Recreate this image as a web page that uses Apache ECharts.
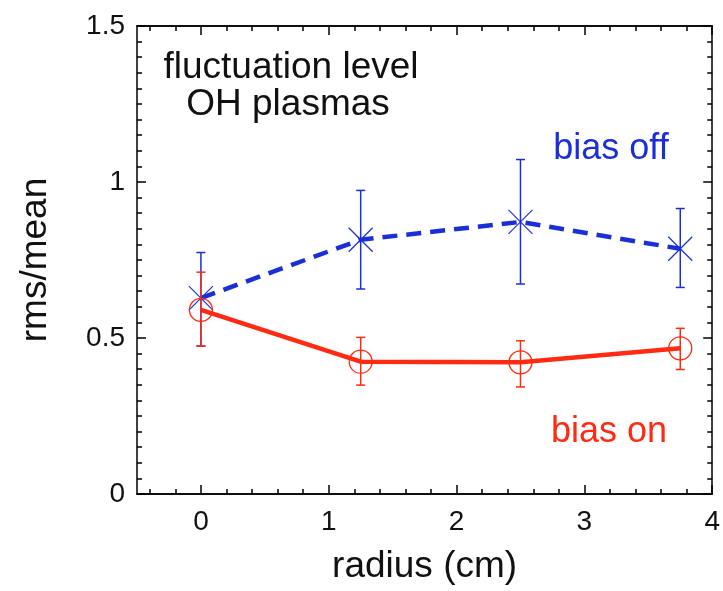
<!DOCTYPE html>
<html>
<head>
<meta charset="utf-8">
<script src="https://cdn.jsdelivr.net/npm/echarts@6/dist/echarts.min.js"></script>
<style>
html,body{margin:0;padding:0;background:#fff;}
#chart{width:723px;height:591px;}
</style>
</head>
<body>
<div id="chart"></div>
<script>
// ---- data ----
const radius = [0, 1.25, 2.5, 3.75];
const biasOff = [0.628, 0.815, 0.872, 0.786];
const biasOffLow = [0.474, 0.657, 0.673, 0.662];
const biasOffHigh = [0.774, 0.973, 1.072, 0.915];
const biasOn = [0.590, 0.424, 0.422, 0.467];
const biasOnLow = [0.474, 0.349, 0.343, 0.399];
const biasOnHigh = [0.711, 0.502, 0.491, 0.531];
const xMajorTicks = [0, 1, 2, 3, 4];
const xMinorTicks = [-0.4, -0.2, 0.2, 0.4, 0.6, 0.8, 1.2, 1.4, 1.6, 1.8, 2.2, 2.4, 2.6, 2.8, 3.2, 3.4, 3.6, 3.8];
const yTickLabels = ['0', '0.5', '1', '1.5'];

const BLUE = '#1a2fd8';
const RED = '#ff2a12';
const FONT = 'Liberation Sans, Arial, Helvetica, sans-serif';

const chart = echarts.init(document.getElementById('chart'));

function xAxisDef(pos, ticks, len, withLabels) {
  return {
    type: 'value', position: pos, min: -0.5, max: 4,
    axisLine: { show: true, onZero: false, lineStyle: { color: '#000', width: 1.5 } },
    axisTick: { show: true, inside: true, length: len, customValues: ticks, lineStyle: { color: '#000', width: 1.5 } },
    axisLabel: withLabels ? { show: true, customValues: xMajorTicks, margin: 14, fontSize: 28, color: '#111', fontFamily: FONT } : { show: false },
    splitLine: { show: false }
  };
}
function yAxisDef(pos, withLabels) {
  return {
    type: 'value', position: pos, min: 0, max: 1.5, interval: 0.5,
    axisLine: { show: true, onZero: false, lineStyle: { color: '#000', width: 1.5 } },
    axisTick: { show: true, inside: true, length: 9, lineStyle: { color: '#000', width: 1.5 } },
    minorTick: { show: true, splitNumber: 10, length: 5, lineStyle: { color: '#000', width: 1.5 } },
    axisLabel: withLabels ? { show: true, margin: 12, fontSize: 28, color: '#111', fontFamily: FONT,
      formatter: function (v) { return yTickLabels[Math.round(v / 0.5)]; } } : { show: false },
    splitLine: { show: false }
  };
}

function errData(ys, lo, hi) {
  return radius.map(function (r, i) { return [r, ys[i], lo[i], hi[i]]; });
}

function makeRender(color, kind) {
  return function (params, api) {
    const x = api.value(0), y = api.value(1), lo = api.value(2), hi = api.value(3);
    const c = api.coord([x, y]);
    const t = api.coord([x, hi]);
    const b = api.coord([x, lo]);
    const st = { stroke: color, lineWidth: 1.5, fill: null };
    const cap = 4.5;
    const kids = [
      { type: 'line', shape: { x1: t[0], y1: t[1], x2: b[0], y2: b[1] }, style: st },
      { type: 'line', shape: { x1: t[0] - cap, y1: t[1], x2: t[0] + cap, y2: t[1] }, style: st },
      { type: 'line', shape: { x1: b[0] - cap, y1: b[1], x2: b[0] + cap, y2: b[1] }, style: st }
    ];
    if (kind === 'x') {
      const a = 12;
      kids.push({ type: 'line', shape: { x1: c[0] - a, y1: c[1] - a, x2: c[0] + a, y2: c[1] + a }, style: { stroke: color, lineWidth: 1.2 } });
      kids.push({ type: 'line', shape: { x1: c[0] - a, y1: c[1] + a, x2: c[0] + a, y2: c[1] - a }, style: { stroke: color, lineWidth: 1.2 } });
    } else {
      kids.push({ type: 'circle', shape: { cx: c[0], cy: c[1], r: 11.5 }, style: { stroke: color, lineWidth: 1.3, fill: null } });
    }
    return { type: 'group', children: kids };
  };
}

const option = {
  backgroundColor: '#fff',
  animation: false,
  grid: { left: 137, right: 10, top: 26, bottom: 97, containLabel: false },
  xAxis: [
    Object.assign(xAxisDef('bottom', xMajorTicks, 9, true), {
      name: 'radius (cm)', nameLocation: 'middle', nameGap: 54,
      nameTextStyle: { fontSize: 37, color: '#111', fontFamily: FONT }
    }),
    xAxisDef('bottom', xMinorTicks, 5, false),
    xAxisDef('top', xMajorTicks, 9, false),
    xAxisDef('top', xMinorTicks, 5, false)
  ],
  yAxis: [
    Object.assign(yAxisDef('left', true), {
      name: 'rms/mean', nameLocation: 'middle', nameGap: 83, nameRotate: 90,
      nameTextStyle: { fontSize: 37, color: '#111', fontFamily: FONT }
    }),
    yAxisDef('right', false)
  ],
  series: [
    {
      type: 'line', name: 'bias off', xAxisIndex: 0, yAxisIndex: 0,
      data: radius.map(function (r, i) { return [r, biasOff[i]]; }),
      showSymbol: false, z: 2,
      lineStyle: { color: BLUE, width: 4.5, type: [15, 9] }
    },
    {
      type: 'line', name: 'bias on', xAxisIndex: 0, yAxisIndex: 0,
      data: radius.map(function (r, i) { return [r, biasOn[i]]; }),
      showSymbol: false, z: 2,
      lineStyle: { color: RED, width: 4.5 }
    },
    {
      type: 'custom', xAxisIndex: 0, yAxisIndex: 0, z: 3,
      renderItem: makeRender(BLUE, 'x'),
      data: errData(biasOff, biasOffLow, biasOffHigh)
    },
    {
      type: 'custom', xAxisIndex: 0, yAxisIndex: 0, z: 4,
      renderItem: makeRender(RED, 'o'),
      data: errData(biasOn, biasOnLow, biasOnHigh)
    }
  ],
  graphic: [
    { type: 'text', x: 291, y: 68, style: { text: 'fluctuation level', fontSize: 37, fontFamily: FONT, fill: '#111', align: 'center', verticalAlign: 'middle' } },
    { type: 'text', x: 288, y: 105, style: { text: 'OH plasmas', fontSize: 37, fontFamily: FONT, fill: '#111', align: 'center', verticalAlign: 'middle' } },
    { type: 'text', x: 611, y: 149, style: { text: 'bias off', fontSize: 36, fontFamily: FONT, fill: BLUE, align: 'center', verticalAlign: 'middle' } },
    { type: 'text', x: 609, y: 432, style: { text: 'bias on', fontSize: 36, fontFamily: FONT, fill: RED, align: 'center', verticalAlign: 'middle' } }
  ]
};
chart.setOption(option);
</script>
</body>
</html>
